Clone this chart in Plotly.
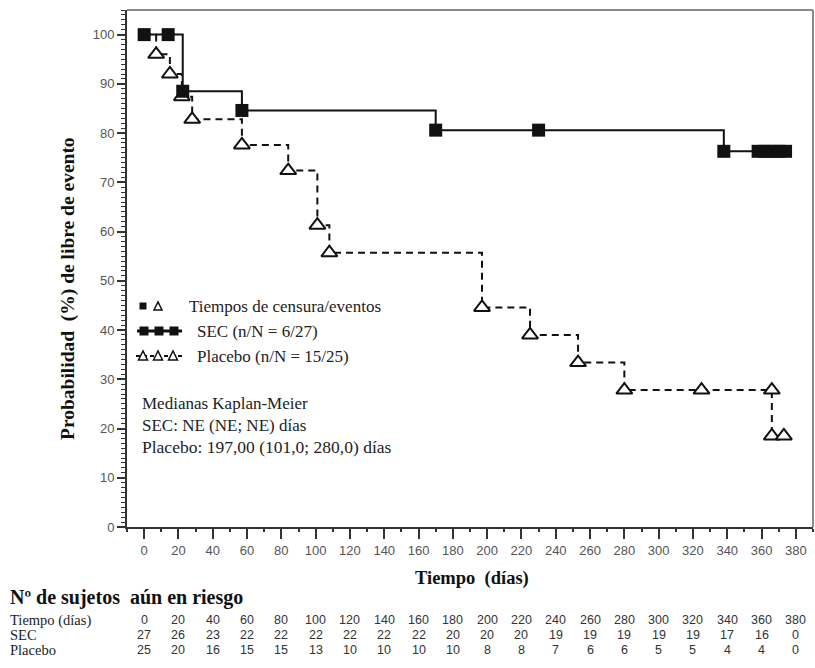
import plotly.graph_objects as go

# ---------------- data ----------------
sec_step_t = [0, 22.5, 57, 170, 338, 376]
sec_step_s = [100, 88.5, 84.6, 80.6, 76.3, 76.3]
sec_mark_t = [0, 14, 22.5, 57, 170, 230, 338, 358, 362, 366, 370, 374]
sec_mark_s = [100, 100, 88.5, 84.6, 80.6, 80.6, 76.3, 76.3, 76.3, 76.3, 76.3, 76.3]

pla_step_t = [0, 7, 15, 22, 28, 57, 84, 101, 108, 197, 225, 253, 280, 366, 373]
pla_step_s = [100, 96, 92, 87.4, 82.8, 77.6, 72.4, 61.3, 55.7, 44.6, 39.0, 33.4, 27.8, 18.5, 18.5]
pla_mark_t = [7, 15, 22, 28, 57, 84, 101, 108, 197, 225, 253, 280, 325, 366, 366, 373]
pla_mark_s = [96, 92, 87.4, 82.8, 77.6, 72.4, 61.3, 55.7, 44.6, 39.0, 33.4, 27.8, 27.8, 27.8, 18.5, 18.5]

risk_times = [0, 20, 40, 60, 80, 100, 120, 140, 160, 180, 200, 220, 240, 260, 280, 300, 320, 340, 360, 380]
risk_sec = [27, 26, 23, 22, 22, 22, 22, 22, 22, 20, 20, 20, 19, 19, 19, 19, 19, 17, 16, 0]
risk_pla = [25, 20, 16, 15, 15, 13, 10, 10, 10, 10, 8, 8, 7, 6, 6, 5, 5, 4, 4, 0]

x_ticks = list(range(0, 381, 20))
y_ticks = list(range(0, 101, 10))

# ---------------- layout helpers ----------------
W, H = 815, 668
L, R, T, B = 127, 813, 10, 527


def px(x):
    return (x - L) / (R - L)


def py(y):
    return (B - y) / (B - T)


INK = "#111111"
SERIF = "Liberation Serif, Times New Roman, serif"
SANS = "Liberation Sans, Arial, sans-serif"
TICKC = "#555555"

fig = go.Figure()

fig.add_trace(go.Scatter(x=pla_step_t, y=pla_step_s, mode="lines", line_shape="hv",
                         line=dict(color=INK, width=2, dash="7px,5px"), showlegend=False,
                         hoverinfo="skip"))
fig.add_trace(go.Scatter(x=sec_step_t, y=sec_step_s, mode="lines", line_shape="hv",
                         line=dict(color=INK, width=2), showlegend=False, hoverinfo="skip"))
fig.add_trace(go.Scatter(x=pla_mark_t, y=pla_mark_s, mode="markers",
                         marker=dict(symbol="triangle-up", size=14, color="white",
                                     line=dict(color=INK, width=2)),
                         showlegend=False))
fig.add_trace(go.Scatter(x=sec_mark_t, y=sec_mark_s, mode="markers",
                         marker=dict(symbol="square", size=13, color=INK,
                                     line=dict(color=INK, width=0)),
                         showlegend=False))

shapes = []
# grey frame (top and right)
shapes.append(dict(type="line", xref="paper", yref="paper", x0=0, x1=1, y0=1, y1=1,
                   line=dict(color="#8a8a8a", width=2)))
shapes.append(dict(type="line", xref="paper", yref="paper", x0=1, x1=1, y0=0, y1=1,
                   line=dict(color="#8a8a8a", width=2)))

# legend glyphs
# row 1: small square + small triangle
shapes.append(dict(type="rect", xref="paper", yref="paper",
                   x0=px(139.5), x1=px(146.5), y0=py(309.5), y1=py(302.5),
                   fillcolor=INK, line=dict(width=0)))
shapes.append(dict(type="path", xref="paper", yref="paper",
                   path=f"M {px(154)} {py(310)} L {px(162)} {py(310)} L {px(158)} {py(302)} Z",
                   fillcolor="white", line=dict(color=INK, width=1.5)))
# row 2: SEC line with squares
shapes.append(dict(type="line", xref="paper", yref="paper", x0=px(137), x1=px(182),
                   y0=py(331), y1=py(331), line=dict(color=INK, width=3)))
for cx in (144, 159, 174):
    shapes.append(dict(type="rect", xref="paper", yref="paper",
                       x0=px(cx - 4.5), x1=px(cx + 4.5), y0=py(335.5), y1=py(326.5),
                       fillcolor=INK, line=dict(width=0)))
# row 3: Placebo dashed with triangles
shapes.append(dict(type="line", xref="paper", yref="paper", x0=px(136), x1=px(184),
                   y0=py(356), y1=py(356), line=dict(color=INK, width=2, dash="4px,3px")))
for cx in (143, 158, 173):
    shapes.append(dict(type="path", xref="paper", yref="paper",
                       path=f"M {px(cx-4.5)} {py(360)} L {px(cx+4.5)} {py(360)} L {px(cx)} {py(351)} Z",
                       fillcolor="white", line=dict(color=INK, width=1.5)))

ann = []


def text(x, y, s, size=14, bold=False, font=SERIF, color="#222222", anchor="left", angle=0):
    ann.append(dict(xref="paper", yref="paper", x=px(x), y=py(y), text=(f"<b>{s}</b>" if bold else s),
                    showarrow=False, xanchor=anchor, yanchor="middle", textangle=angle,
                    font=dict(family=font, size=size, color=color)))


text(187, 306, "Tiempos de censura/eventos", 17)
text(195, 331, "SEC (n/N = 6/27)", 17)
text(195, 356, "Placebo (n/N = 15/25)", 17)
text(140, 403, "Medianas Kaplan-Meier", 17)
text(140, 425, "SEC: NE (NE; NE) días", 17)
text(140, 447, "Placebo: 197,00 (101,0; 280,0) días", 17.5)

# axis titles
text(68, 289, "Probabilidad  (%) de libre de evento", 19.5, bold=True, color=INK, anchor="center", angle=-90)
text(472, 578, "Tiempo  (días)", 18.5, bold=True, color=INK, anchor="center")

# risk table
text(8, 597, "Nº de sujetos  aún en riesgo", 20, bold=True, color=INK)
text(8, 620, "Tiempo (días)", 14.5)
text(8, 635, "SEC", 14.5)
text(8, 650, "Placebo", 14.5)
for t, a, b in zip(risk_times, risk_sec, risk_pla):
    for val, yy in ((t, 620), (a, 635), (b, 650)):
        ann.append(dict(xref="x", yref="paper", x=t, y=py(yy), text=str(val), showarrow=False,
                        xanchor="center", yanchor="middle",
                        font=dict(family=SANS, size=12.5, color="#333333")))

fig.update_layout(
    width=W, height=H,
    margin=dict(l=L, r=W - R, t=T, b=H - B, pad=0),
    plot_bgcolor="white", paper_bgcolor="white",
    shapes=shapes, annotations=ann, showlegend=False,
    xaxis=dict(range=[-10, 390], tickvals=x_ticks, ticktext=[str(v) for v in x_ticks],
               ticks="outside", ticklen=10, tickwidth=2, tickcolor="#333333",
               showline=True, linecolor="#333333", linewidth=2, showgrid=False, zeroline=False,
               tickfont=dict(family=SANS, size=13, color=TICKC),
               minor=dict(dtick=10, tick0=0, ticks="outside", ticklen=3, tickwidth=2, tickcolor="#333333"),
               fixedrange=True),
    yaxis=dict(range=[0, 105], tickvals=y_ticks, ticks="outside", ticklen=8, tickwidth=2,
               tickcolor="#333333", showline=True, linecolor="#333333", linewidth=2,
               showgrid=False, zeroline=False,
               tickfont=dict(family=SANS, size=13, color=TICKC),
               minor=dict(dtick=1, tick0=0, ticks="outside", ticklen=4, tickwidth=1, tickcolor="#333333"),
               fixedrange=True),
)

fig.write_html("out.html")
